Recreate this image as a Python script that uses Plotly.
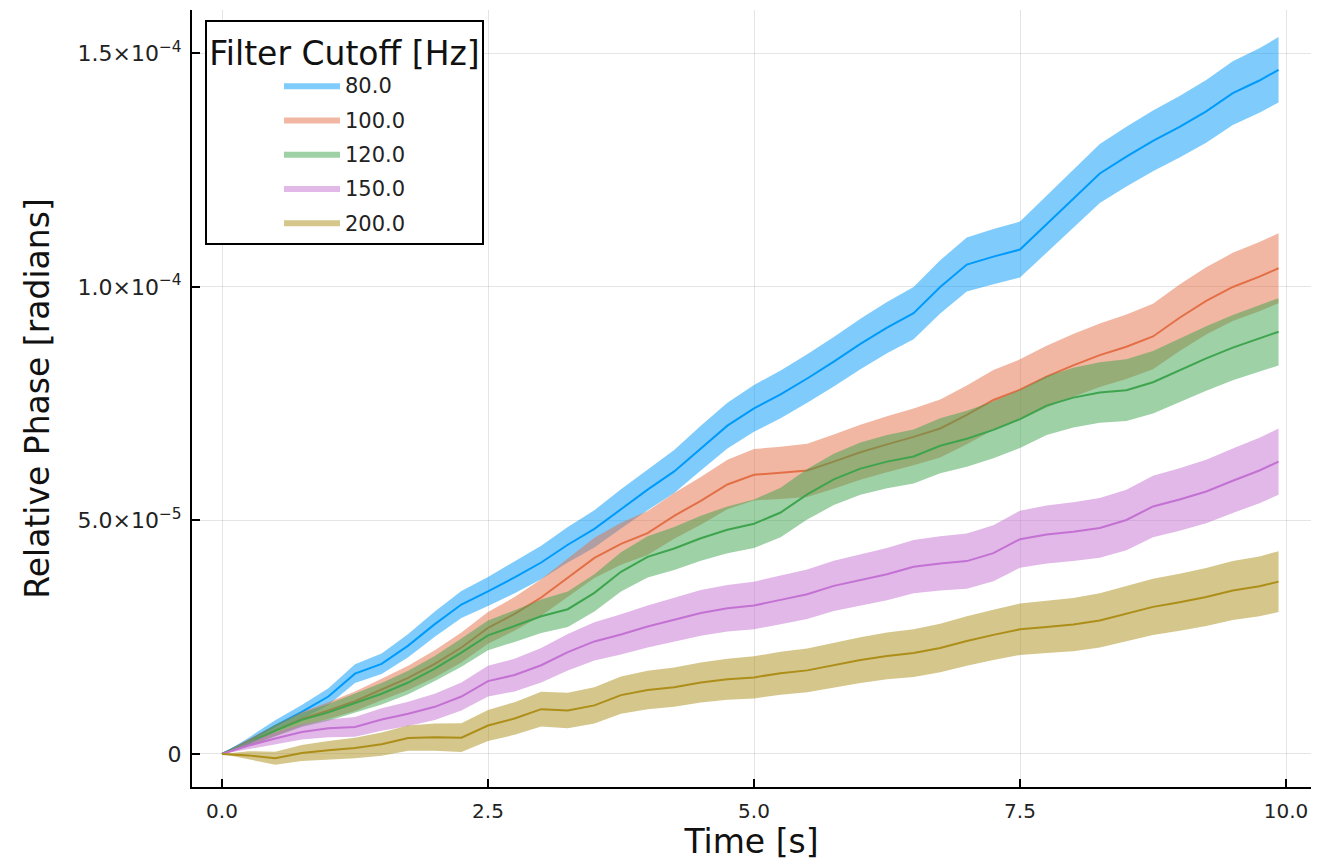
import plotly.graph_objects as go

# Time axis [s]
time_s = [0.0, 0.25, 0.5, 0.75, 1.0, 1.25, 1.5, 1.75, 2.0, 2.25, 2.5, 2.75, 3.0, 3.25,
          3.5, 3.75, 4.0, 4.25, 4.5, 4.75, 5.0, 5.25, 5.5, 5.75, 6.0, 6.25, 6.5, 6.75,
          7.0, 7.25, 7.5, 7.75, 8.0, 8.25, 8.5, 8.75, 9.0, 9.25, 9.5, 9.75, 9.93]

cutoffs = ["80.0", "100.0", "120.0", "150.0", "200.0"]
colors = ["#009AFA", "#E36F47", "#3EA44E", "#C371D2", "#AC8E18"]

# Mean relative phase, in units of 1e-6 rad
phase_80 = [0, 2.8, 6.0, 9.0, 12.3, 17.2, 19.3, 23.2, 27.8, 32.0, 34.8, 37.8, 41.0, 44.8,
            48.2, 52.5, 56.6, 60.5, 65.5, 70.3, 74.0, 77.0, 80.4, 84.0, 87.8, 91.3, 94.4, 100.0,
            104.8, 106.5, 108.0, 113.5, 118.8, 124.3, 127.9, 131.3, 134.3, 137.6, 141.5, 144.2, 146.5]
phase_100 = [0, 2.5, 5.0, 7.5, 9.3, 11.3, 13.8, 16.3, 19.3, 22.8, 27.0, 30.0, 33.5, 37.7,
             42.0, 45.0, 47.3, 51.0, 54.2, 57.7, 59.8, 60.2, 60.7, 62.6, 64.6, 66.3, 67.9, 69.7,
             72.6, 75.8, 78.0, 80.8, 83.2, 85.4, 87.2, 89.4, 93.4, 97.0, 100.0, 102.2, 104.0]
phase_120 = [0, 2.3, 5.0, 7.3, 8.9, 10.9, 12.9, 15.3, 18.3, 21.7, 25.4, 27.4, 29.5, 31.0,
             34.5, 39.0, 42.2, 44.0, 46.2, 48.0, 49.3, 51.7, 55.6, 58.8, 61.1, 62.6, 63.7, 66.0,
             67.5, 69.4, 71.7, 74.6, 76.3, 77.4, 77.9, 79.6, 82.2, 84.7, 87.0, 89.0, 90.4]
phase_150 = [0, 1.8, 3.3, 4.7, 5.5, 5.8, 7.4, 8.6, 10.1, 12.3, 15.6, 16.9, 19.0, 21.8,
             24.1, 25.6, 27.3, 28.8, 30.2, 31.2, 31.8, 33.0, 34.2, 36.0, 37.2, 38.5, 40.1, 40.8,
             41.3, 43.0, 46.0, 47.0, 47.6, 48.4, 50.1, 53.0, 54.5, 56.2, 58.5, 60.7, 62.6]
phase_200 = [0, -0.3, -0.9, 0.2, 0.8, 1.3, 2.1, 3.4, 3.6, 3.5, 6.1, 7.6, 9.6, 9.3,
             10.4, 12.6, 13.7, 14.3, 15.3, 16.0, 16.4, 17.3, 17.9, 19.0, 20.1, 21.0, 21.6, 22.7,
             24.2, 25.5, 26.7, 27.2, 27.7, 28.6, 30.1, 31.5, 32.5, 33.6, 35.0, 35.9, 36.9]

# Ribbon half-widths, in units of 1e-6 rad
err_80 = [0, 0.7, 1.2, 1.5, 1.8, 2.0, 2.2, 2.5, 2.7, 2.9, 3.1, 3.4, 3.6, 3.8,
          4.0, 4.2, 4.4, 4.6, 4.8, 4.9, 5.0, 5.1, 5.2, 5.3, 5.4, 5.5, 5.6, 5.7,
          5.8, 5.9, 6.0, 6.1, 6.2, 6.3, 6.4, 6.5, 6.6, 6.7, 6.8, 6.9, 7.0]
err_100 = [0, 0.7, 1.2, 1.5, 1.8, 2.1, 2.3, 2.6, 2.9, 3.2, 3.4, 3.6, 3.9, 4.1,
           4.3, 4.5, 4.7, 4.9, 5.1, 5.3, 5.5, 5.6, 5.7, 5.8, 5.9, 6.0, 6.1, 6.2,
           6.3, 6.4, 6.5, 6.6, 6.7, 6.8, 6.9, 7.0, 7.1, 7.2, 7.3, 7.4, 7.5]
err_120 = [0, 0.7, 1.2, 1.5, 1.8, 2.0, 2.3, 2.5, 2.7, 3.0, 3.2, 3.4, 3.6, 3.8,
           4.0, 4.2, 4.4, 4.6, 4.8, 5.0, 5.2, 5.3, 5.4, 5.5, 5.6, 5.7, 5.8, 5.9,
           6.0, 6.1, 6.2, 6.3, 6.4, 6.5, 6.6, 6.7, 6.8, 6.9, 7.0, 7.1, 7.2]
err_150 = [0, 0.8, 1.3, 1.6, 1.9, 2.1, 2.4, 2.6, 2.8, 3.0, 3.3, 3.5, 3.7, 3.9,
           4.1, 4.3, 4.5, 4.7, 4.9, 5.0, 5.1, 5.2, 5.3, 5.4, 5.5, 5.6, 5.7, 5.8,
           5.9, 6.0, 6.1, 6.2, 6.3, 6.4, 6.5, 6.6, 6.7, 6.8, 6.9, 7.0, 7.1]
err_200 = [0, 0.9, 1.4, 1.7, 2.0, 2.2, 2.5, 2.7, 2.9, 3.1, 3.3, 3.5, 3.7, 3.8,
           3.9, 4.0, 4.1, 4.2, 4.3, 4.4, 4.5, 4.6, 4.7, 4.8, 4.9, 5.0, 5.1, 5.2,
           5.3, 5.4, 5.5, 5.6, 5.7, 5.8, 5.9, 6.0, 6.1, 6.2, 6.3, 6.4, 6.5]

y_tickvals = [0, 5e-5, 1e-4, 1.5e-4]
y_ticktext = ["0", "5.0×10<sup>−5</sup>", "1.0×10<sup>−4</sup>", "1.5×10<sup>−4</sup>"]
x_tickvals = [0.0, 2.5, 5.0, 7.5, 10.0]
x_ticktext = ["0.0", "2.5", "5.0", "7.5", "10.0"]

SCALE = 1e-6
means = [phase_80, phase_100, phase_120, phase_150, phase_200]
errs = [err_80, err_100, err_120, err_150, err_200]


def rgba(hex_color, a):
    h = hex_color.lstrip("#")
    r, g, b = int(h[0:2], 16), int(h[2:4], 16), int(h[4:6], 16)
    return f"rgba({r},{g},{b},{a})"


fig = go.Figure()
for i, (name, col, m, e) in enumerate(zip(cutoffs, colors, means, errs)):
    lower = [(a - b) * SCALE for a, b in zip(m, e)]
    upper = [(a + b) * SCALE for a, b in zip(m, e)]
    mean = [a * SCALE for a in m]
    fig.add_trace(go.Scatter(x=time_s, y=lower, mode="lines", line=dict(width=0, color=col),
                             showlegend=False, legendgroup=name, hoverinfo="skip"))
    fig.add_trace(go.Scatter(x=time_s, y=upper, mode="lines", line=dict(width=0, color=col),
                             fill="tonexty", fillcolor=rgba(col, 0.5), name=name,
                             legendgroup=name, showlegend=True))
    fig.add_trace(go.Scatter(x=time_s, y=mean, mode="lines", line=dict(width=2, color=col),
                             showlegend=False, legendgroup=name, name=name))

FONT = "DejaVu Sans"
fig.update_layout(
    width=1329, height=861,
    margin=dict(l=192, r=18, t=10, b=74),
    paper_bgcolor="white", plot_bgcolor="white",
    font=dict(family=FONT, color="#222222"),
    showlegend=True,
    legend=dict(
        title=dict(text="Filter Cutoff [Hz]", font=dict(size=33, family=FONT, color="#111111"),
                   side="top center"),
        font=dict(size=21, family=FONT, color="#222222"),
        x=0.0116, y=0.987, xanchor="left", yanchor="top",
        bgcolor="white", bordercolor="black", borderwidth=2,
        itemwidth=56, indentation=72, tracegroupgap=4,
    ),
    xaxis=dict(
        range=[-0.282, 10.235], automargin=False,
        tickvals=x_tickvals, ticktext=x_ticktext,
        tickfont=dict(size=20, family=FONT, color="#222222"),
        ticks="inside", ticklen=8, tickwidth=2, tickcolor="black",
        showline=True, linecolor="black", linewidth=2, mirror=False,
        showgrid=True, gridcolor="rgba(0,0,0,0.1)", gridwidth=1, zeroline=False,
        title=dict(text="Time [s]", font=dict(size=33, family=FONT, color="#111111"), standoff=10),
        ticklabelstandoff=5,
    ),
    yaxis=dict(
        range=[-7.07e-6, 159.3e-6], automargin=False,
        tickvals=y_tickvals, ticktext=y_ticktext,
        tickfont=dict(size=22, family=FONT, color="#222222"),
        ticks="inside", ticklen=8, tickwidth=2, tickcolor="black",
        showline=True, linecolor="black", linewidth=2, mirror=False,
        showgrid=True, gridcolor="rgba(0,0,0,0.1)", gridwidth=1, zeroline=False,
        title=dict(text="Relative Phase [radians]", font=dict(size=33, family=FONT, color="#111111"),
                   standoff=18),
        ticklabelstandoff=4,
    ),
)

fig.write_html("out.html")
